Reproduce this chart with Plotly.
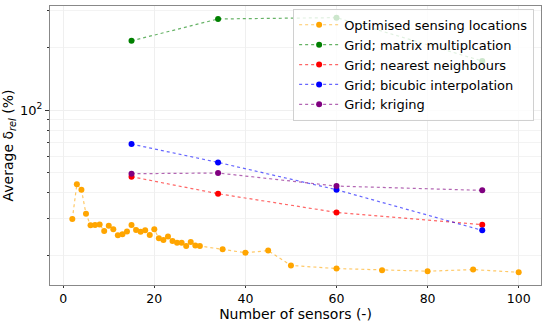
import plotly.graph_objects as go

# ---- data ----
opt_x = [2, 3, 4, 5, 6, 7, 8, 9, 10, 11, 12, 13, 14, 15, 16, 17, 18, 19, 20,
         21, 22, 23, 24, 25, 26, 27, 28, 29, 30, 35, 40, 45, 50, 60, 70, 80, 90, 100]
opt_y = [29.9, 44.0, 41.4, 31.7, 27.9, 28.0, 28.2, 26.2, 27.8, 26.7, 25.0, 25.3, 26.1, 28.0,
         26.5, 26.0, 26.4, 25.1, 26.7, 24.2, 23.7, 24.7, 23.5, 23.0, 23.0, 22.2, 23.2, 22.3,
         22.2, 21.4, 20.6, 21.1, 17.9, 17.3, 17.0, 16.8, 17.1, 16.6]

grid_x = [15, 34, 60, 92]
matrix_y = [215, 274, 278, 172]
nearest_y = [47.8, 39.6, 32.2, 28.1]
bicubic_y = [68.6, 56.0, 41.4, 26.4]
kriging_y = [49.4, 49.8, 43.1, 41.1]

series = [
    ("Optimised sensing locations", opt_x, opt_y, (255, 165, 0)),
    ("Grid; matrix multiplcation", grid_x, matrix_y, (0, 128, 0)),
    ("Grid; nearest neighbours", grid_x, nearest_y, (255, 0, 0)),
    ("Grid; bicubic interpolation", grid_x, bicubic_y, (0, 0, 255)),
    ("Grid; kriging", grid_x, kriging_y, (128, 0, 128)),
]

x_ticks = [0, 20, 40, 60, 80, 100]
y_major = [100]
y_minor = [20, 30, 40, 50, 60, 70, 80, 90, 200, 300]

FONT = "DejaVu Sans"

fig = go.Figure()
for name, xs, ys, (r, g, b) in series:
    fig.add_trace(go.Scatter(
        x=xs, y=ys, name=name, mode="lines+markers",
        line=dict(color=f"rgba({r},{g},{b},0.6)", width=1.2, dash="dot"),
        marker=dict(color=f"rgb({r},{g},{b})", size=6, line=dict(width=0)),
    ))

fig.update_layout(
    width=550, height=322,
    margin=dict(l=50, r=9, t=6, b=37, autoexpand=False),
    paper_bgcolor="white", plot_bgcolor="white",
    font=dict(family=FONT, size=13, color="black"),
    showlegend=True,
    legend=dict(
        x=0.986, y=0.99, xanchor="right", yanchor="top",
        bgcolor="rgba(255,255,255,0.8)", bordercolor="#d0d0d0", borderwidth=1,
        font=dict(family=FONT, size=13), tracegroupgap=0, itemwidth=40,
    ),
    xaxis=dict(
        range=[-2.9, 104.9], tickvals=x_ticks, ticktext=[str(v) for v in x_ticks],
        showgrid=True, gridcolor="#efefef", gridwidth=1, automargin=False,
        ticks="outside", ticklen=2, tickcolor="#333", tickfont=dict(size=12.5),
        showline=True, linecolor="#888", linewidth=1.2, mirror=True, zeroline=False,
        title=dict(text="Number of sensors (-)", font=dict(size=14), standoff=4),
    ),
    yaxis=dict(
        type="log", range=[1.159, 2.5], automargin=False,
        tickvals=y_major, ticktext=["10<sup>2</sup>"],
        showgrid=True, gridcolor="#efefef", gridwidth=1,
        ticks="outside", ticklen=4, tickcolor="#333", tickfont=dict(size=13),
        minor=dict(tickvals=y_minor, ticks="outside", ticklen=2, tickcolor="#333",
                   showgrid=True, gridcolor="#f3f3f3", gridwidth=1),
        showline=True, linecolor="#888", linewidth=1.2, mirror=True, zeroline=False,
        title=dict(text="Average δ<sub><i>rel</i></sub> (%)", font=dict(size=14), standoff=4),
    ),
)

fig.write_html("out.html", config={"displayModeBar": False},
               post_script="document.body.style.margin='0';")
